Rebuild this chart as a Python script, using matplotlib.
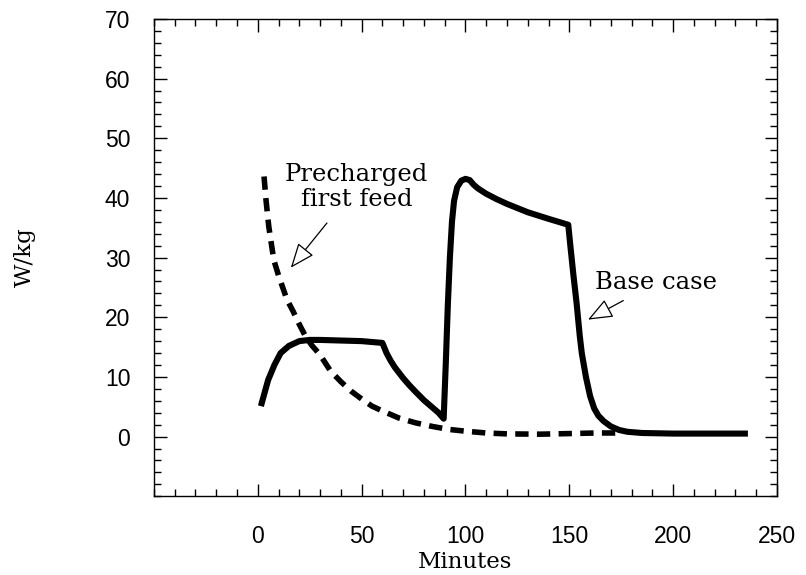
#!/usr/bin/env python3

import matplotlib
matplotlib.use("Agg")
import matplotlib.pyplot as plt
import numpy as np

# base case heat output (W/kg) against time (minutes)
base_t = [1.5, 3, 5, 8, 11, 15, 20, 25, 30, 40, 50, 60, 62, 64, 66, 68, 70,
          73, 76, 80, 84, 87, 89.5, 90.5, 91.5, 92.5, 93.5, 94.5, 96, 98, 100,
          102, 104, 106, 110, 115, 120, 130, 140, 149.5, 150.5, 152, 153.5,
          155, 156, 158, 160, 162, 164, 166.5, 170, 174, 178, 185, 200, 236]
base_w = [5.1, 7.0, 9.5, 12.0, 14.0, 15.2, 16.0, 16.2, 16.2, 16.1, 16.0, 15.7,
          14.0, 12.7, 11.6, 10.7, 9.8, 8.6, 7.5, 6.1, 4.9, 4.0, 3.0, 12.0,
          22.0, 30.0, 36.0, 39.5, 41.8, 42.9, 43.2, 43.0, 42.2, 41.6, 40.7,
          39.8, 39.0, 37.6, 36.5, 35.5, 32.0, 27.0, 22.4, 17.0, 14.0, 10.0,
          6.8, 4.7, 3.5, 2.6, 1.7, 1.1, 0.8, 0.6, 0.5, 0.5]

# precharged first feed
pre_t = [3, 4, 5.3, 7.7, 10, 12, 14, 17, 20, 23, 26, 30, 35, 40, 45, 50, 55,
         60, 68, 76, 84, 92, 100, 110, 120, 136, 150, 163, 175]
pre_w = [43.6, 39.5, 35.2, 29.6, 27.0, 25.0, 23.0, 21.0, 18.8, 16.8, 15.3,
         13.7, 11.0, 9.2, 7.6, 6.3, 5.1, 4.3, 3.1, 2.3, 1.7, 1.2, 0.9, 0.6,
         0.45, 0.4, 0.5, 0.6, 0.6]

x_ticks = [0, 50, 100, 150, 200, 250]
y_ticks = [0, 10, 20, 30, 40, 50, 60, 70]

serif = ["DejaVu Serif"]
sans = ["Liberation Sans", "DejaVu Sans"]


def main():
    fig = plt.figure(figsize=(8.06, 5.75), dpi=100)
    ax = fig.add_axes([0.191, 0.137, 0.773, 0.830])

    ax.plot(pre_t, pre_w, color="black", lw=4.0, linestyle=(0, (2.4, 1.5)),
            dash_capstyle="butt")
    ax.plot(base_t, base_w, color="black", lw=4.4, solid_joinstyle="round",
            solid_capstyle="butt")

    ax.set_xlim(-50, 250)
    ax.set_ylim(-10, 70)
    ax.set_xticks(x_ticks)
    ax.set_yticks(y_ticks)
    ax.set_xticks(np.arange(-50, 251, 10), minor=True)
    ax.set_yticks(np.arange(-10, 71, 2), minor=True)

    ax.tick_params(which="both", direction="in", top=True, right=True,
                   width=1.0, color="black")
    ax.tick_params(which="major", length=9)
    ax.tick_params(which="minor", length=5)
    ax.tick_params(axis="x", pad=21)
    ax.tick_params(axis="y", pad=17)
    for lab in ax.get_xticklabels() + ax.get_yticklabels():
        lab.set_family(sans)
        lab.set_fontsize(16.5)
    for sp in ax.spines.values():
        sp.set_linewidth(1.0)

    ax.set_xlabel("Minutes", family=serif, fontsize=16.5, labelpad=2)
    ax.set_ylabel("W/kg", family=serif, fontsize=16.5, labelpad=50)

    arrow = dict(arrowstyle="-|>,head_length=0.7,head_width=0.28",
                 fc="white", ec="black", lw=0.9, mutation_scale=22,
                 shrinkA=0, shrinkB=0)
    ax.annotate("", xy=(15.9, 28.3), xytext=(33.3, 35.8), arrowprops=arrow)
    ax.text(47.5, 41.8, "Precharged\nfirst feed", family=serif,
            fontsize=17.5, ha="center", va="center", linespacing=1.12)

    ax.annotate("", xy=(159, 19.6), xytext=(176, 22.8), arrowprops=arrow)
    ax.text(191.8, 25.8, "Base case", family=serif, fontsize=17.5,
            ha="center", va="center")

    fig.savefig("out.png", dpi=100)


if __name__ == "__main__":
    main()
